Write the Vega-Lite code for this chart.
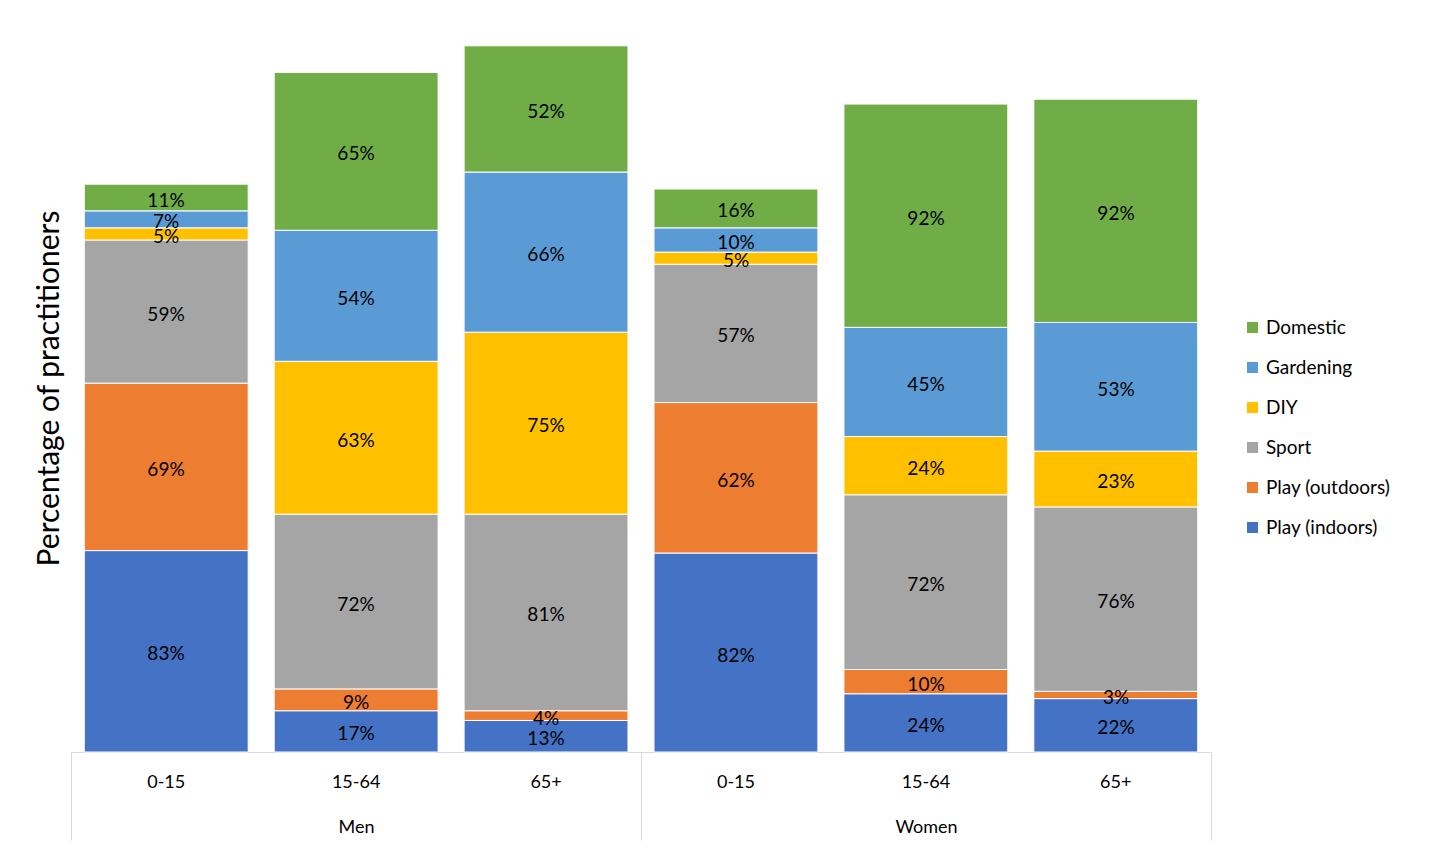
{
  "$schema": "https://vega.github.io/schema/vega-lite/v6.json",
  "autosize": {"type": "none"},
  "width": 1140,
  "height": 728,
  "padding": {"left": 71, "top": 24, "right": 218, "bottom": 100},
  "background": "white",
  "datasets": {
    "practice": [
      {"bar": "Men 0-15", "activity": "Play (indoors)", "pct": 0.83},
      {"bar": "Men 0-15", "activity": "Play (outdoors)", "pct": 0.69},
      {"bar": "Men 0-15", "activity": "Sport", "pct": 0.59},
      {"bar": "Men 0-15", "activity": "DIY", "pct": 0.05},
      {"bar": "Men 0-15", "activity": "Gardening", "pct": 0.07},
      {"bar": "Men 0-15", "activity": "Domestic", "pct": 0.11},
      {"bar": "Men 15-64", "activity": "Play (indoors)", "pct": 0.17},
      {"bar": "Men 15-64", "activity": "Play (outdoors)", "pct": 0.09},
      {"bar": "Men 15-64", "activity": "Sport", "pct": 0.72},
      {"bar": "Men 15-64", "activity": "DIY", "pct": 0.63},
      {"bar": "Men 15-64", "activity": "Gardening", "pct": 0.54},
      {"bar": "Men 15-64", "activity": "Domestic", "pct": 0.65},
      {"bar": "Men 65+", "activity": "Play (indoors)", "pct": 0.13},
      {"bar": "Men 65+", "activity": "Play (outdoors)", "pct": 0.04},
      {"bar": "Men 65+", "activity": "Sport", "pct": 0.81},
      {"bar": "Men 65+", "activity": "DIY", "pct": 0.75},
      {"bar": "Men 65+", "activity": "Gardening", "pct": 0.66},
      {"bar": "Men 65+", "activity": "Domestic", "pct": 0.52},
      {"bar": "Women 0-15", "activity": "Play (indoors)", "pct": 0.82},
      {"bar": "Women 0-15", "activity": "Play (outdoors)", "pct": 0.62},
      {"bar": "Women 0-15", "activity": "Sport", "pct": 0.57},
      {"bar": "Women 0-15", "activity": "DIY", "pct": 0.05},
      {"bar": "Women 0-15", "activity": "Gardening", "pct": 0.10},
      {"bar": "Women 0-15", "activity": "Domestic", "pct": 0.16},
      {"bar": "Women 15-64", "activity": "Play (indoors)", "pct": 0.24},
      {"bar": "Women 15-64", "activity": "Play (outdoors)", "pct": 0.10},
      {"bar": "Women 15-64", "activity": "Sport", "pct": 0.72},
      {"bar": "Women 15-64", "activity": "DIY", "pct": 0.24},
      {"bar": "Women 15-64", "activity": "Gardening", "pct": 0.45},
      {"bar": "Women 15-64", "activity": "Domestic", "pct": 0.92},
      {"bar": "Women 65+", "activity": "Play (indoors)", "pct": 0.22},
      {"bar": "Women 65+", "activity": "Play (outdoors)", "pct": 0.03},
      {"bar": "Women 65+", "activity": "Sport", "pct": 0.76},
      {"bar": "Women 65+", "activity": "DIY", "pct": 0.23},
      {"bar": "Women 65+", "activity": "Gardening", "pct": 0.53},
      {"bar": "Women 65+", "activity": "Domestic", "pct": 0.92}
    ],
    "sexes": [{"sex": "Men"}, {"sex": "Women"}]
  },
  "layer": [
    {
      "data": {"name": "practice"},
      "mark": {"type": "bar", "stroke": "white", "strokeWidth": 1},
      "encoding": {
        "x": {
          "field": "bar", "type": "nominal", "sort": null,
          "scale": {"paddingInner": 0.137, "paddingOuter": 0.07},
          "axis": {"orient": "bottom", "labelExpr": "split(datum.label, ' ')[1]", "labelAngle": 0, "labelPadding": 21, "ticks": false, "domainColor": "#d9d9d9", "title": null}
        },
        "y": {
          "field": "pct", "type": "quantitative", "stack": "zero",
          "scale": {"domain": [0, 3], "nice": false},
          "axis": {"labels": false, "ticks": false, "domain": false, "grid": false, "title": "Percentage of practitioners", "titlePadding": 7}
        },
        "order": {"field": "bar"},
        "color": {
          "field": "activity", "type": "nominal",
          "sort": ["Domestic", "Gardening", "DIY", "Sport", "Play (outdoors)", "Play (indoors)"],
          "scale": {"range": ["#70AD47", "#5B9BD5", "#FFC000", "#A5A5A5", "#ED7D31", "#4472C4"]},
          "legend": {"title": null, "orient": "none", "legendX": 1172, "legendY": 294}
        }
      }
    },
    {
      "data": {"name": "practice"},
      "mark": {"type": "text", "fontSize": 19, "dy": 3},
      "encoding": {
        "x": {"field": "bar", "type": "nominal", "sort": null, "scale": {"paddingInner": 0.137, "paddingOuter": 0.07}, "axis": null},
        "y": {"field": "pct", "type": "quantitative", "stack": "zero", "bandPosition": 0.5},
        "order": {"field": "bar"},
        "color": {
          "field": "activity", "type": "nominal",
          "scale": {"range": ["#000000"]},
          "legend": null
        },
        "text": {"field": "pct", "type": "quantitative", "format": ".0%"}
      }
    },
    {
      "data": {"name": "sexes"},
      "mark": {"type": "tick", "opacity": 0},
      "encoding": {
        "x": {
          "field": "sex", "type": "nominal",
          "scale": {"paddingInner": 0, "paddingOuter": 0},
          "axis": {"orient": "bottom", "tickBand": "extent", "tickSize": 88, "tickColor": "#d9d9d9", "domain": false, "labelPadding": -22, "labelAngle": 0, "title": null}
        }
      }
    }
  ],
  "resolve": {
    "scale": {"x": "independent", "color": "independent"},
    "axis": {"x": "independent"}
  },
  "config": {
    "font": "Lato",
    "view": {"stroke": null},
    "axis": {"labelFont": "Lato", "labelFontSize": 18, "labelColor": "#000000", "titleFont": "Lato", "titleFontSize": 30, "titleFontWeight": "normal", "titleColor": "#000000"},
    "legend": {"labelFont": "Lato", "labelFontSize": 19, "labelColor": "#000000", "symbolType": "square", "symbolSize": 121, "symbolStrokeWidth": 0, "rowPadding": 20, "padding": 0}
  }
}
